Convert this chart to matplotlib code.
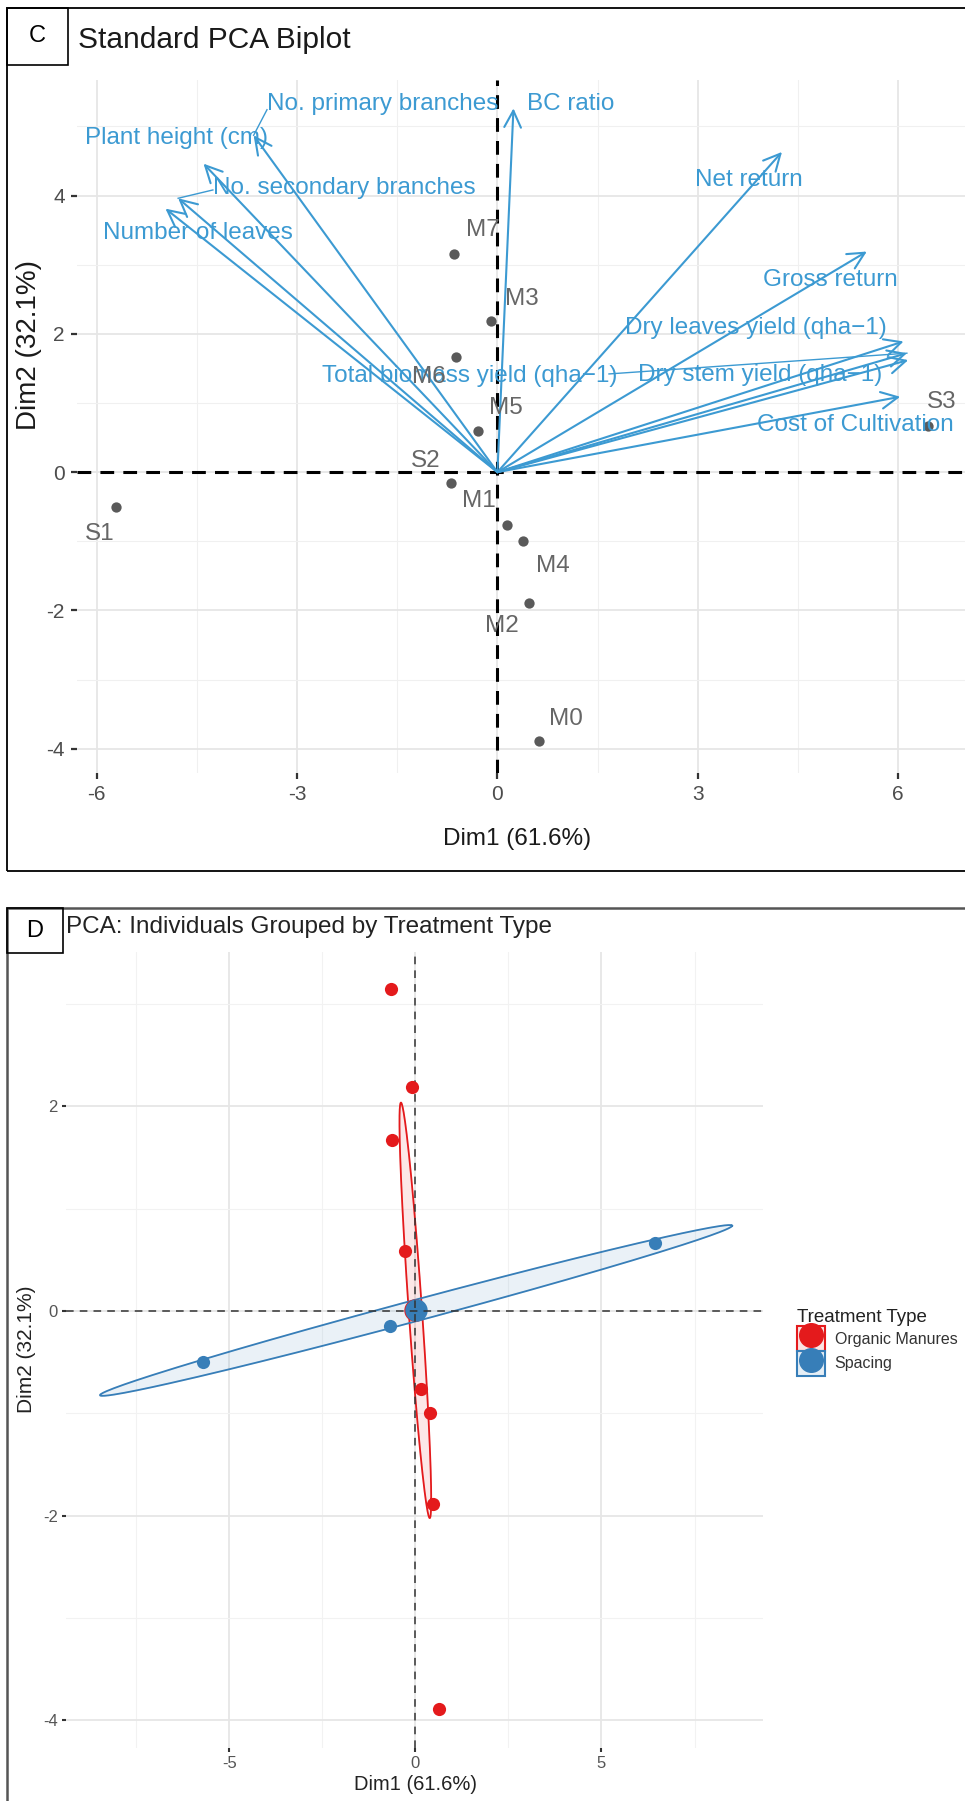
import numpy as np
import matplotlib.pyplot as plt
from matplotlib.patches import Rectangle
from matplotlib.lines import Line2D
from matplotlib.colors import to_rgba
from matplotlib.legend_handler import HandlerTuple

plt.rcParams['axes.unicode_minus'] = False

# individuals: PCA scores
ind_names = ['M0', 'M1', 'M2', 'M3', 'M4', 'M5', 'M6', 'M7', 'S1', 'S2', 'S3']
ind_dim1 = [0.62, 0.15, 0.48, -0.09, 0.38, -0.29, -0.62, -0.65, -5.71, -0.69, 6.45]
ind_dim2 = [-3.89, -0.76, -1.89, 2.19, -1.00, 0.59, 1.67, 3.15, -0.50, -0.15, 0.67]
ind_group = ['Organic Manures'] * 8 + ['Spacing'] * 3

# variables: arrow tips
var_names = ['Plant height (cm)', 'No. primary branches', 'No. secondary branches',
             'Number of leaves', 'BC ratio', 'Net return', 'Gross return',
             'Dry leaves yield (qha\u22121)', 'Total biomass yield (qha\u22121)',
             'Dry stem yield (qha\u22121)', 'Cost of Cultivation']
var_dim1 = [-4.40, -3.65, -4.78, -4.97, 0.24, 4.26, 5.53, 6.08, 6.13, 6.15, 6.03]
var_dim2 = [4.46, 4.87, 3.96, 3.81, 5.26, 4.63, 3.19, 1.89, 1.72, 1.62, 1.09]

groups = ['Organic Manures', 'Spacing']

# label placement (repelled labels in the original)
var_label_xy = [(-6.17, 4.83), (-3.45, 5.33), (-4.26, 4.11), (-5.90, 3.46), (0.44, 5.33),
                (2.96, 4.22), (3.98, 2.78), (1.91, 2.08), (-2.63, 1.39), (2.10, 1.40),
                (3.89, 0.68)]
var_leader = {1: (-3.45, 5.24), 2: (-4.26, 4.08), 8: (1.67, 1.42)}
ind_label_xy = [(1.03, -3.57), (-0.28, -0.42), (0.06, -2.22), (0.36, 2.51), (0.83, -1.35),
                (0.12, 0.93), (-1.03, 1.37), (-0.22, 3.50), (-5.95, -0.89), (-1.08, 0.16),
                (6.65, 1.02)]

FONT = ['Liberation Sans', 'DejaVu Sans']
var_col = '#3C9AD2'
ind_col = '#5a5a5a'
grp_col = {'Organic Manures': '#E41A1C', 'Spacing': '#377EB8'}
ell_r = {'Organic Manures': 0.87, 'Spacing': 1.39}

plt.rcParams['font.family'] = FONT

W, H = 965, 1801
fig = plt.figure(figsize=(W / 100, H / 100), dpi=100)


def box(l, t, r, b):
    return [l / W, 1 - b / H, (r - l) / W, (b - t) / H]


def fx(px):
    return px / W


def fy(py):
    return 1 - py / H


# ---------------- panel C ----------------
ax = fig.add_axes(box(76.6, 80, 965, 773))
ax.set_xlim(-6.3, 7.0)
ax.set_ylim(-4.35, 5.67)
ax.set_xticks([-6, -3, 0, 3, 6])
ax.set_xticks([-4.5, -1.5, 1.5, 4.5], minor=True)
ax.set_yticks([-4, -2, 0, 2, 4])
ax.set_yticks([-3, -1, 1, 3, 5], minor=True)
ax.grid(True, which='major', color='#e6e6e6', lw=1.3)
ax.grid(True, which='minor', color='#f0f0f0', lw=0.8)
ax.set_axisbelow(True)
for s in ax.spines.values():
    s.set_visible(False)
ax.tick_params(which='major', length=4.5, width=1.6, color='#333333', labelcolor='#4d4d4d',
               labelsize=15, pad=4)
ax.tick_params(which='minor', length=0)

ax.axhline(0, color='black', lw=2.2, ls=(0, (4.5, 3)), zorder=1.5)
ax.axvline(0, color='black', lw=2.2, ls=(0, (4.5, 3)), zorder=1.5)

for i, name in enumerate(var_names):
    ax.annotate('', xy=(var_dim1[i], var_dim2[i]), xytext=(0, 0),
                arrowprops=dict(arrowstyle='->,head_length=0.6,head_width=0.3', color=var_col,
                                lw=1.5, shrinkA=0, shrinkB=0, mutation_scale=20), zorder=3)
    lx, ly = var_label_xy[i]
    ax.text(lx, ly, name, color=var_col, fontsize=17.5, ha='left', va='center', zorder=4)
    if i in var_leader:
        sx, sy = var_leader[i]
        ax.plot([sx, var_dim1[i]], [sy, var_dim2[i]], color=var_col, lw=1.0, zorder=3)

ax.scatter(ind_dim1, ind_dim2, s=55, color=ind_col, zorder=3, linewidths=0)
for i, name in enumerate(ind_names):
    lx, ly = ind_label_xy[i]
    ax.text(lx, ly, name, color='#666666', fontsize=17.5, ha='center', va='center', zorder=4)

fig.text(fx(517), fy(839), 'Dim1 (61.6%)', fontsize=17.5, color='#1a1a1a',
         ha='center', va='center')
fig.text(fx(29), fy(345), 'Dim2 (32.1%)', fontsize=20, color='#1a1a1a',
         ha='center', va='center', rotation=90)
fig.text(fx(78), fy(40), 'Standard PCA Biplot', fontsize=21.5, color='#1a1a1a',
         ha='left', va='center')

# ---------------- panel D ----------------
axd = fig.add_axes(box(66, 952, 763, 1748))
axd.set_xlim(-9.39, 9.34)
axd.set_ylim(-4.27, 3.51)
axd.set_xticks([-5, 0, 5])
axd.set_xticks([-7.5, -2.5, 2.5, 7.5], minor=True)
axd.set_yticks([-4, -2, 0, 2])
axd.set_yticks([-3, -1, 1, 3], minor=True)
axd.grid(True, which='major', color='#e6e6e6', lw=1.3)
axd.grid(True, which='minor', color='#f2f2f2', lw=0.8)
axd.set_axisbelow(True)
for s in axd.spines.values():
    s.set_visible(False)
axd.tick_params(which='major', length=3, width=1.5, color='#333333', labelcolor='#555555',
                labelsize=12, pad=3)
axd.tick_params(which='minor', length=0)

x = np.array(ind_dim1)
y = np.array(ind_dim2)
g = np.array(ind_group)
t = np.linspace(0, 2 * np.pi, 200)
handles = []
for grp in groups:
    m = g == grp
    c = grp_col[grp]
    pts = np.vstack([x[m], y[m]])
    mu = pts.mean(axis=1)
    cov = np.cov(pts)
    L = np.linalg.cholesky(cov)
    ell = mu[:, None] + ell_r[grp] * L @ np.vstack([np.cos(t), np.sin(t)])
    axd.fill(ell[0], ell[1], color=to_rgba(c, 0.1), zorder=2)
    axd.plot(ell[0], ell[1], color=c, lw=1.3, zorder=2.1)
    axd.scatter(x[m], y[m], s=90, color=c, zorder=4, linewidths=0)
    axd.scatter([mu[0]], [mu[1]], s=260, color=c, zorder=2.3, linewidths=0)
    handles.append((Rectangle((0, 0), 1, 1, fc=to_rgba(c, 0.12), ec=c, lw=1.5),
                    Line2D([], [], marker='o', ls='', color=c, markersize=17)))

axd.axhline(0, color='#333333', lw=1.1, ls=(0, (5, 4)), zorder=3)
axd.axvline(0, color='#333333', lw=1.1, ls=(0, (5, 4)), zorder=3)

leg = fig.legend(handles, groups, handler_map={tuple: HandlerTuple(ndivide=1)},
                 title='Treatment Type', loc='upper left', bbox_to_anchor=(fx(786), fy(1298)),
                 frameon=False, fontsize=11.5, title_fontsize=13.5, handlelength=1.75,
                 handleheight=2.0, handletextpad=0.6, labelspacing=0.0, borderpad=0.2)
leg._legend_box.align = 'left'
for txt in leg.get_texts():
    txt.set_color('#333333')
leg.get_title().set_color('#222222')

fig.text(fx(415), fy(1784), 'Dim1 (61.6%)', fontsize=14.5, color='#222222',
         ha='center', va='center')
fig.text(fx(27), fy(1349), 'Dim2 (32.1%)', fontsize=15, color='#222222',
         ha='center', va='center', rotation=90)
fig.text(fx(66), fy(927), 'PCA: Individuals Grouped by Treatment Type', fontsize=17.5,
         color='#222222', ha='left', va='center')

# ---------------- frames and panel letters ----------------
fig.add_artist(Rectangle((fx(7), fy(871)), (W + 10 - 7) / W, (871 - 8) / H,
                         transform=fig.transFigure, fill=False, ec='black', lw=1.3))
fig.add_artist(Rectangle((fx(7), fy(H + 10)), (W + 10 - 7) / W, (H + 10 - 907.7) / H,
                         transform=fig.transFigure, fill=False, ec='#555555', lw=1.8))
fig.add_artist(Rectangle((fx(7), fy(65)), (68 - 7) / W, (65 - 8) / H,
                         transform=fig.transFigure, fill=False, ec='black', lw=1.2))
fig.add_artist(Rectangle((fx(7), fy(953)), (63 - 7) / W, (953 - 907.7) / H,
                         transform=fig.transFigure, fill=False, ec='black', lw=1.2))
fig.text(fx(37.5), fy(36.5), 'C', fontsize=17, ha='center', va='center')
fig.text(fx(35), fy(931), 'D', fontsize=17, ha='center', va='center')

fig.savefig('out.png', dpi=100)
